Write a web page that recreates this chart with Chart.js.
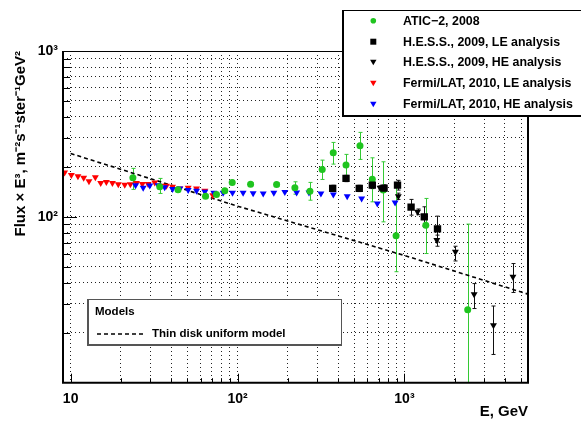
<!DOCTYPE html>
<html lang="en">
<head>
<meta charset="UTF-8">
<title>Electron spectrum</title>
<script src="https://cdn.jsdelivr.net/npm/chart.js"></script>
<style>
  html, body { margin: 0; padding: 0; background: #fff; }
</style>
</head>
<body>
<canvas id="fluxChart" width="581" height="421"></canvas>
<script>
// ATIC-2, 2008
const aticE = [23.6, 34.2, 44.0, 64.3, 74.8, 83.9, 92.9, 119.7, 171.4, 220.6, 271.5, 321.6, 374.5, 446.7, 541.6, 642, 746.5, 891, 1343, 2394];
const aticFlux = [172, 151.7, 145.5, 133.3, 136.5, 143.5, 161.3, 157.5, 156.9, 149.6, 142.9, 193.2, 243.3, 205.1, 268.2, 168.8, 145, 76.8, 89.1, 27.5];
const aticLow = [146.4, 138.4, 142, 130, 133, 140, 157.5, 154, 153, 137, 126, 168.1, 208, 176.7, 222, 123.2, 93.3, 46.7, 60.1, 5];
const aticHigh = [196, 170.5, 149, 136.6, 140, 147, 165, 161, 161, 162.7, 161.3, 219.8, 281, 238, 323, 227, 214.8, 151.7, 129.1, 90.4];

// H.E.S.S., 2009, LE analysis
const hessLeE = [371.5, 446.7, 536.3, 642, 755, 909, 1096, 1315, 1578];
const hessLeFlux = [148.4, 170.5, 148.4, 155.4, 149, 155.4, 114.4, 100, 84.6];
const hessLeLow = [142, 163, 142, 148, 142, 145, 102.4, 87.9, 70.6];
const hessLeHigh = [155, 178, 155, 163, 156, 166, 127.4, 115, 101];

// H.E.S.S., 2009, HE analysis
const hessHeE = [714, 919, 1198, 1563, 2020, 2616, 3415, 4467];
const hessHeFlux = [149.6, 133.3, 107.2, 72.4, 61.5, 34.2, 22.2, 43.5];
const hessHeLow = [145, 127.4, 103, 66.5, 54.2, 28, 14.8, 35];
const hessHeHigh = [154, 139, 111.5, 77.6, 66.5, 39.6, 29, 52.3];

// Fermi/LAT, 2010, LE analysis
const fermiLeE = [9.2, 10.1, 11.06, 11.97, 12.88, 14.06, 15.14, 16.37, 17.8, 19.3, 21.1, 22.8, 24.8, 26.9, 29.1, 31.9, 34.7, 37.5, 40.8, 45.1, 50.6, 56.8, 63.7, 71.1];
const fermiLeFlux = [185, 178.6, 176, 172, 164, 173, 160, 162, 160, 157, 156, 157, 160, 158, 158, 161, 154, 154, 152, 148, 150, 148, 143.5, 135];

// Fermi/LAT, 2010, HE analysis
const fermiHeE = [24.5, 27.2, 29.8, 33.4, 36.6, 40.8, 45.1, 50.6, 56.8, 63.7, 72.1, 82, 93.3, 108, 124, 142.5, 165, 192, 226, 268, 316, 375, 454, 554, 688, 879];
const fermiHeFlux = [155, 149.6, 154.7, 155, 151, 147.4, 148, 145, 143.5, 141.5, 139.6, 139.6, 139.6, 139.6, 139, 138.4, 139.6, 141, 140, 140, 138.4, 136.5, 133.3, 129, 120.4, 122];

// Thin disk uniform model
const modelE = [10, 100, 1000, 5500];
const modelFlux = [241, 116, 58.5, 34.2];

// axes
const xTicks = [10, 20, 30, 40, 50, 60, 70, 80, 90, 100, 200, 300, 400, 500, 600, 700, 800, 900, 1000, 2000, 3000, 4000, 5000];
const xLabelVals = [10, 100, 1000];
const xLabels = ['10', '10²', '10³'];
const yTicks = [20, 30, 40, 50, 60, 70, 80, 90, 100, 200, 300, 400, 500, 600, 700, 800, 900, 1000];
const yLabelVals = [100, 1000];
const yLabels = ['10²', '10³'];

const legendNames = ['ATIC\u22122, 2008', 'H.E.S.S., 2009, LE analysis', 'H.E.S.S., 2009, HE analysis', 'Fermi/LAT, 2010, LE analysis', 'Fermi/LAT, 2010, HE analysis'];

const FONT = "'Liberation Sans', Arial, sans-serif";
const GREEN = '#1fc41f';

function points(xs, ys) {
    return xs.map((v, i) => ({ x: v, y: ys[i] }));
}

const errorBars = {
    id: 'errorBars',
    beforeDatasetsDraw(chart) {
        const { ctx, chartArea: a, scales: { x, y } } = chart;
        ctx.save();
        ctx.beginPath();
        ctx.rect(a.left, a.top, a.right - a.left, a.bottom - a.top);
        ctx.clip();
        chart.data.datasets.forEach(ds => {
            if (!ds.errLow) return;
            ctx.strokeStyle = ds.errColor;
            ctx.lineWidth = 1;
            ds.data.forEach((p, i) => {
                const px = Math.round(x.getPixelForValue(p.x)) + 0.5;
                const lo = y.getPixelForValue(ds.errLow[i]);
                const hi = y.getPixelForValue(ds.errHigh[i]);
                ctx.beginPath();
                ctx.moveTo(px, lo); ctx.lineTo(px, hi);
                ctx.moveTo(px - 2, lo); ctx.lineTo(px + 2, lo);
                ctx.moveTo(px - 2, hi); ctx.lineTo(px + 2, hi);
                ctx.stroke();
            });
        });
        ctx.restore();
    }
};

// frame and inward ticks, ROOT style
const frame = {
    id: 'frame',
    afterDatasetsDraw(chart) {
        const { ctx, chartArea: a, scales: { x, y } } = chart;
        ctx.save();
        ctx.strokeStyle = '#000';
        ctx.lineWidth = 1;
        xTicks.forEach(v => {
            const px = Math.round(x.getPixelForValue(v)) + 0.5;
            const len = xLabelVals.includes(v) ? 9 : 4.5;
            ctx.beginPath();
            ctx.moveTo(px, a.bottom); ctx.lineTo(px, a.bottom - len);
            ctx.stroke();
        });
        yTicks.forEach(v => {
            const py = Math.round(y.getPixelForValue(v)) + 0.5;
            const len = yLabelVals.includes(v) ? 14 : 7;
            ctx.beginPath();
            ctx.moveTo(a.left, py); ctx.lineTo(a.left + len, py);
            ctx.stroke();
        });
        ctx.lineWidth = 1;
        ctx.beginPath();
        ctx.moveTo(a.left, a.top + 0.5); ctx.lineTo(a.right, a.top + 0.5);
        ctx.stroke();
        ctx.lineWidth = 2;
        ctx.beginPath();
        ctx.moveTo(a.right, a.top); ctx.lineTo(a.right, a.bottom);
        ctx.lineTo(a.left, a.bottom); ctx.lineTo(a.left, a.top);
        ctx.stroke();
        ctx.restore();
    }
};

function marker(ctx, kind, cx, cy, s, color) {
    ctx.fillStyle = color;
    ctx.beginPath();
    if (kind === 'circle') {
        ctx.arc(cx, cy, s, 0, Math.PI * 2);
    } else if (kind === 'rect') {
        ctx.rect(cx - s, cy - s, 2 * s, 2 * s);
    } else {
        ctx.moveTo(cx - s, cy - s * 0.8);
        ctx.lineTo(cx + s, cy - s * 0.8);
        ctx.lineTo(cx, cy + s * 0.9);
        ctx.closePath();
    }
    ctx.fill();
}

const legends = {
    id: 'legends',
    afterDraw(chart) {
        const ctx = chart.ctx;
        ctx.save();
        // data legend
        ctx.fillStyle = '#fff';
        ctx.fillRect(343, 10, 240, 106);
        ctx.strokeStyle = '#000';
        ctx.lineWidth = 1;
        ctx.strokeRect(343.5, 10.5, 240, 105);
        ctx.lineWidth = 2;
        ctx.beginPath();
        ctx.moveTo(343, 10); ctx.lineTo(343, 116); ctx.lineTo(582, 116);
        ctx.stroke();
        const rows = [20.7, 41.7, 62.3, 83.3, 104.3];
        const kinds = ['circle', 'rect', 'tri', 'tri', 'tri'];
        const cols = [GREEN, '#000', '#000', '#f00', '#00f'];
        const sizes = [2.8, 3, 3.2, 3.2, 3.2];
        rows.forEach((ry, i) => {
            marker(ctx, kinds[i], 373.3, ry, sizes[i], cols[i]);
            ctx.fillStyle = '#000';
            ctx.font = 'bold 12.4px ' + FONT;
            ctx.textBaseline = 'middle';
            ctx.textAlign = 'left';
            ctx.fillText(legendNames[i], 403, ry + 0.5);
        });
        // models legend
        ctx.fillStyle = '#fff';
        ctx.fillRect(88, 299, 254, 46);
        ctx.strokeStyle = '#555';
        ctx.lineWidth = 1;
        ctx.strokeRect(88.5, 299.5, 253, 45);
        ctx.lineWidth = 2;
        ctx.beginPath();
        ctx.moveTo(88, 299); ctx.lineTo(88, 345); ctx.lineTo(342, 345);
        ctx.stroke();
        ctx.fillStyle = '#000';
        ctx.font = 'bold 11.5px ' + FONT;
        ctx.fillText('Models', 95, 312);
        ctx.fillText('Thin disk uniform model', 152, 334);
        ctx.strokeStyle = '#000';
        ctx.lineWidth = 1.5;
        ctx.setLineDash([4, 3]);
        ctx.beginPath();
        ctx.moveTo(97, 334); ctx.lineTo(144, 334);
        ctx.stroke();
        ctx.restore();
    }
};

const ctx = document.getElementById('fluxChart').getContext('2d');
new Chart(ctx, {
    type: 'scatter',
    data: {
        datasets: [
            {
                label: legendNames[1],
                data: points(hessLeE, hessLeFlux),
                errLow: hessLeLow, errHigh: hessLeHigh, errColor: '#111',
                pointStyle: 'rect', pointRadius: 5.2,
                backgroundColor: '#000', borderColor: '#000', borderWidth: 0
            },
            {
                label: legendNames[2],
                data: points(hessHeE, hessHeFlux),
                errLow: hessHeLow, errHigh: hessHeHigh, errColor: '#111',
                pointStyle: 'triangle', pointRotation: 180, pointRadius: 4,
                backgroundColor: '#000', borderColor: '#000', borderWidth: 0
            },
            {
                label: legendNames[0],
                data: points(aticE, aticFlux),
                errLow: aticLow, errHigh: aticHigh, errColor: '#33c933',
                pointStyle: 'circle', pointRadius: 3.5,
                backgroundColor: GREEN, borderColor: GREEN, borderWidth: 0
            },
            {
                label: legendNames[4],
                data: points(fermiHeE, fermiHeFlux),
                pointStyle: 'triangle', pointRotation: 180, pointRadius: 4,
                backgroundColor: '#0000ff', borderColor: '#0000ff', borderWidth: 0
            },
            {
                label: legendNames[3],
                data: points(fermiLeE, fermiLeFlux),
                pointStyle: 'triangle', pointRotation: 180, pointRadius: 4,
                backgroundColor: '#ff0000', borderColor: '#ff0000', borderWidth: 0
            },
            {
                label: 'Thin disk uniform model',
                data: points(modelE, modelFlux),
                showLine: true, pointRadius: 0,
                borderColor: '#000', borderWidth: 1.6, borderDash: [4, 3]
            }
        ]
    },
    options: {
        responsive: false,
        animation: false,
        layout: { padding: { top: 51, right: 53, left: 0, bottom: 0 } },
        plugins: { legend: { display: false }, tooltip: { enabled: false } },
        scales: {
            x: {
                type: 'logarithmic',
                min: 9,
                max: 5500,
                afterBuildTicks: s => { s.ticks = xTicks.map(v => ({ value: v })); },
                afterFit: s => { s.height = 38.3; },
                ticks: {
                    autoSkip: false, maxRotation: 0, padding: 8, color: '#000',
                    font: { family: FONT, size: 14, weight: 'bold' },
                    callback: v => { const k = xLabelVals.indexOf(v); return k < 0 ? '' : xLabels[k]; }
                },
                grid: { color: '#222', lineWidth: 1, drawTicks: false },
                border: { display: false, dash: [1, 3] },
                title: {
                    display: true, text: 'E, GeV', align: 'end', color: '#000',
                    font: { family: FONT, size: 15, weight: 'bold' },
                    padding: { top: 0, bottom: 0 }
                }
            },
            y: {
                type: 'logarithmic',
                min: 10,
                max: 1000,
                afterBuildTicks: s => { s.ticks = yTicks.map(v => ({ value: v })); },
                afterFit: s => { s.width = 63; },
                ticks: {
                    autoSkip: false, padding: 5, color: '#000',
                    font: { family: FONT, size: 14, weight: 'bold' },
                    callback: v => { const k = yLabelVals.indexOf(v); return k < 0 ? '' : yLabels[k]; }
                },
                grid: { color: '#222', lineWidth: 1, drawTicks: false },
                border: { display: false, dash: [1, 3] },
                title: {
                    display: true, text: 'Flux \u00d7 E³, m⁻²s⁻¹ster⁻¹GeV²', align: 'end', color: '#000',
                    font: { family: FONT, size: 15, weight: 'bold' },
                    padding: { top: 12, bottom: 0 }
                }
            }
        }
    },
    plugins: [errorBars, frame, legends]
});
</script>
</body>
</html>
